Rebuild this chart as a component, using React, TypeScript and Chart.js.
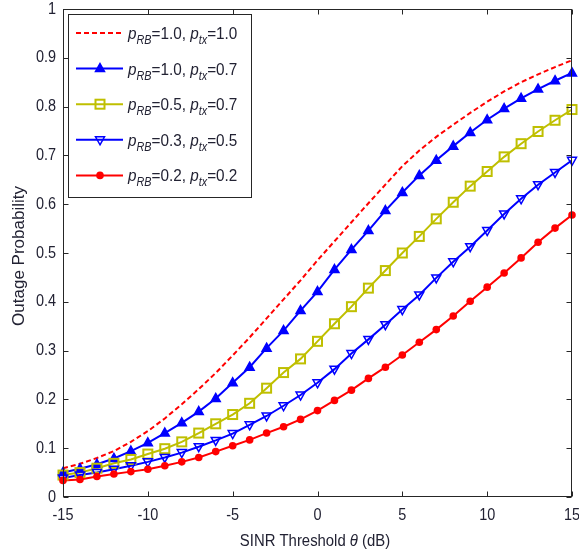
import React, { useEffect, useRef } from 'react';
import { Chart, registerables } from 'chart.js';

Chart.register(...registerables);

// ---- data ----
const thresholds = [-15, -14, -13, -12, -11, -10, -9, -8, -7, -6, -5, -4, -3, -2, -1, 0, 1, 2, 3, 4, 5, 6, 7, 8, 9, 10, 11, 12, 13, 14, 15];

const rb10tx10 = [0.059, 0.068, 0.080, 0.094, 0.113, 0.135, 0.161, 0.190, 0.221, 0.254, 0.290, 0.327, 0.366, 0.405, 0.444, 0.485, 0.524, 0.563, 0.602, 0.640, 0.678, 0.710, 0.738, 0.763, 0.787, 0.810, 0.831, 0.850, 0.866, 0.881, 0.895];
const rb10tx07 = [0.050, 0.058, 0.067, 0.079, 0.094, 0.111, 0.131, 0.152, 0.175, 0.202, 0.234, 0.266, 0.305, 0.341, 0.382, 0.421, 0.466, 0.507, 0.546, 0.587, 0.624, 0.659, 0.690, 0.719, 0.747, 0.773, 0.796, 0.817, 0.836, 0.853, 0.869];
const rb05tx07 = [0.045, 0.050, 0.059, 0.069, 0.077, 0.088, 0.099, 0.113, 0.131, 0.150, 0.169, 0.192, 0.223, 0.255, 0.283, 0.319, 0.355, 0.390, 0.428, 0.464, 0.500, 0.534, 0.570, 0.604, 0.637, 0.667, 0.697, 0.724, 0.749, 0.772, 0.794];
const rb03tx05 = [0.039, 0.045, 0.050, 0.057, 0.064, 0.072, 0.081, 0.091, 0.103, 0.116, 0.130, 0.148, 0.166, 0.187, 0.209, 0.234, 0.262, 0.294, 0.323, 0.353, 0.384, 0.414, 0.449, 0.482, 0.513, 0.546, 0.580, 0.611, 0.640, 0.665, 0.690];
const rb02tx02 = [0.034, 0.036, 0.042, 0.047, 0.052, 0.057, 0.064, 0.072, 0.081, 0.093, 0.105, 0.117, 0.131, 0.144, 0.159, 0.177, 0.198, 0.219, 0.243, 0.266, 0.291, 0.317, 0.343, 0.371, 0.401, 0.430, 0.459, 0.490, 0.522, 0.551, 0.578];

const legendRB = ['1.0', '1.0', '0.5', '0.3', '0.2'];
const legendTX = ['1.0', '0.7', '0.7', '0.5', '0.2'];

const xTicks = [-15, -10, -5, 0, 5, 10, 15];
const yTicks = [0, 0.1, 0.2, 0.3, 0.4, 0.5, 0.6, 0.7, 0.8, 0.9, 1];
const yTickLabels = ['0', '0.1', '0.2', '0.3', '0.4', '0.5', '0.6', '0.7', '0.8', '0.9', '1'];

const xTitle = 'SINR Threshold ';
const xTitleSym = 'θ';
const xTitleUnit = ' (dB)';
const yTitle = 'Outage Probability';

const RED = '#ff0000';
const BLUE = '#0000ff';
const YEL = '#bfbf00';
const TXT = '#222233';
const FONT = '"Liberation Sans", Arial, sans-serif';

type Style = { color: string; dash: number[]; marker: string };
const styles: Style[] = [
  { color: RED, dash: [5, 3], marker: 'none' },
  { color: BLUE, dash: [], marker: 'tri' },
  { color: YEL, dash: [], marker: 'square' },
  { color: BLUE, dash: [], marker: 'tridown' },
  { color: RED, dash: [], marker: 'dot' },
];

function drawMarker(ctx: CanvasRenderingContext2D, kind: string, x: number, y: number, color: string) {
  ctx.save();
  ctx.strokeStyle = color;
  ctx.fillStyle = color;
  ctx.setLineDash([]);
  ctx.lineWidth = 1.5;
  if (kind === 'tri') {
    ctx.beginPath();
    ctx.moveTo(x, y - 5);
    ctx.lineTo(x + 4.5, y + 3);
    ctx.lineTo(x - 4.5, y + 3);
    ctx.closePath();
    ctx.fill();
    ctx.stroke();
  } else if (kind === 'tridown') {
    ctx.beginPath();
    ctx.moveTo(x, y + 5);
    ctx.lineTo(x + 4.5, y - 3);
    ctx.lineTo(x - 4.5, y - 3);
    ctx.closePath();
    ctx.stroke();
  } else if (kind === 'square') {
    ctx.lineWidth = 2;
    ctx.strokeRect(x - 4.5, y - 4.5, 9, 9);
  } else if (kind === 'dot') {
    ctx.beginPath();
    ctx.arc(x, y, 3.8, 0, Math.PI * 2);
    ctx.fill();
  }
  ctx.restore();
}

type Part = { t: string; italic?: boolean; sub?: boolean };
// draws horizontally compressed rich text; returns the drawn width
function drawRich(ctx: CanvasRenderingContext2D, x: number, y: number, parts: Part[], size: number, subSize: number, sx: number, measureOnly = false) {
  let w = 0;
  ctx.save();
  ctx.translate(x, y);
  ctx.scale(sx, 1);
  ctx.textAlign = 'left';
  for (const p of parts) {
    const s = p.sub ? subSize : size;
    ctx.font = `${p.italic ? 'italic ' : ''}${s}px ${FONT}`;
    if (!measureOnly) ctx.fillText(p.t, w, p.sub ? 5 : 0);
    w += ctx.measureText(p.t).width;
  }
  ctx.restore();
  return w * sx;
}

function drawText(ctx: CanvasRenderingContext2D, text: string, x: number, y: number, size: number, sx: number, align: 'left' | 'right' | 'center') {
  ctx.save();
  ctx.font = `${size}px ${FONT}`;
  const w = ctx.measureText(text).width * sx;
  const left = align === 'left' ? x : align === 'right' ? x - w : x - w / 2;
  ctx.translate(left, y);
  ctx.scale(sx, 1);
  ctx.textAlign = 'left';
  ctx.textBaseline = 'middle';
  ctx.fillText(text, 0, 0);
  ctx.restore();
}

const framePlugin = {
  id: 'matlabFrame',
  afterDraw(chart: any) {
    const { ctx, chartArea: a, scales } = chart;
    ctx.save();
    // axes box
    ctx.strokeStyle = '#262626';
    ctx.lineWidth = 1;
    const L = Math.round(a.left) + 0.5;
    const R = Math.round(a.right) - 0.5;
    const T = Math.round(a.top) + 0.5;
    const B = Math.round(a.bottom) - 0.5;
    ctx.strokeRect(L, T, R - L, B - T);
    ctx.beginPath();
    for (const t of xTicks) {
      const px = Math.round(scales.x.getPixelForValue(t)) + 0.5;
      ctx.moveTo(px, B); ctx.lineTo(px, B - 5);
      ctx.moveTo(px, T); ctx.lineTo(px, T + 5);
    }
    for (const t of yTicks) {
      const py = Math.round(scales.y.getPixelForValue(t)) + 0.5;
      ctx.moveTo(L, py); ctx.lineTo(L + 5, py);
      ctx.moveTo(R, py); ctx.lineTo(R - 5, py);
    }
    ctx.stroke();

    // tick labels
    ctx.fillStyle = TXT;
    xTicks.forEach((t) => {
      drawText(ctx, String(t), scales.x.getPixelForValue(t), 515, 17, 0.85, 'center');
    });
    yTicks.forEach((t, i) => {
      drawText(ctx, yTickLabels[i], 56, scales.y.getPixelForValue(t), 17, 0.85, 'right');
    });

    // axis titles
    ctx.fillStyle = TXT;
    ctx.textBaseline = 'alphabetic';
    const xParts: Part[] = [{ t: xTitle }, { t: xTitleSym, italic: true }, { t: xTitleUnit }];
    const w = drawRich(ctx, 0, 0, xParts, 16, 16, 0.93, true);
    drawRich(ctx, 315 - w / 2, 546, xParts, 16, 16, 0.93);

    ctx.save();
    ctx.translate(19, 256);
    ctx.rotate(-Math.PI / 2);
    ctx.font = `17px ${FONT}`;
    ctx.textAlign = 'center';
    ctx.textBaseline = 'middle';
    ctx.fillText(yTitle, 0, 0);
    ctx.restore();

    // legend
    const bx = 68.5, by = 14.5, bw = 183, bh = 183;
    ctx.fillStyle = '#ffffff';
    ctx.fillRect(bx, by, bw, bh);
    ctx.strokeStyle = '#262626';
    ctx.strokeRect(bx, by, bw, bh);
    for (let i = 0; i < styles.length; i++) {
      const st = styles[i];
      const cy = 33 + i * 35.6;
      ctx.save();
      ctx.strokeStyle = st.color;
      ctx.lineWidth = 2;
      ctx.setLineDash(st.dash);
      ctx.beginPath();
      ctx.moveTo(76, cy);
      ctx.lineTo(123, cy);
      ctx.stroke();
      ctx.restore();
      drawMarker(ctx, st.marker, 100, cy, st.color);
      ctx.fillStyle = TXT;
      ctx.textBaseline = 'alphabetic';
      drawRich(ctx, 128, cy + 6, [
        { t: 'p', italic: true },
        { t: 'RB', italic: true, sub: true },
        { t: '=' + legendRB[i] + ', ' },
        { t: 'p', italic: true },
        { t: 'tx', italic: true, sub: true },
        { t: '=' + legendTX[i] },
      ], 17, 12, 0.9);
    }
    ctx.restore();
  },
};

const markerPlugin = {
  id: 'customMarkers',
  afterDatasetsDraw(chart: any) {
    const { ctx } = chart;
    ctx.save();
    ctx.beginPath();
    ctx.rect(chart.chartArea.left - 6, chart.chartArea.top - 6, chart.chartArea.width + 12, chart.chartArea.height + 12);
    ctx.clip();
    chart.data.datasets.forEach((ds: any, i: number) => {
      const st = styles[i];
      if (st.marker === 'none') return;
      const meta = chart.getDatasetMeta(i);
      meta.data.forEach((pt: any) => drawMarker(ctx, st.marker, pt.x, pt.y, st.color));
    });
    ctx.restore();
  },
};

export default function App() {
  const ref = useRef<HTMLCanvasElement | null>(null);
  useEffect(() => {
    if (!ref.current) return;
    const series = [rb10tx10, rb10tx07, rb05tx07, rb03tx05, rb02tx02];
    const chart = new Chart(ref.current, {
      type: 'line',
      data: {
        datasets: series.map((vals, i) => ({
          label: `p_RB=${legendRB[i]}, p_tx=${legendTX[i]}`,
          data: thresholds.map((x, k) => ({ x, y: vals[k] })),
          borderColor: styles[i].color,
          borderWidth: 2,
          borderDash: styles[i].dash,
          pointRadius: 0,
          tension: 0,
          fill: false,
        })),
      },
      options: {
        responsive: false,
        animation: false,
        events: [],
        layout: { padding: { top: 9, right: 7, left: 0, bottom: 0 } },
        plugins: { legend: { display: false }, tooltip: { enabled: false }, title: { display: false } },
        scales: {
          x: {
            type: 'linear',
            min: -15,
            max: 15,
            grid: { display: false, drawTicks: false },
            border: { display: false },
            ticks: { stepSize: 5, display: false },
            afterFit: (s: any) => { s.height = 61; },
          },
          y: {
            type: 'linear',
            min: 0,
            max: 1,
            grid: { display: false, drawTicks: false },
            border: { display: false },
            ticks: { stepSize: 0.1, display: false },
            afterFit: (s: any) => { s.width = 63; },
          },
        },
      },
      plugins: [markerPlugin, framePlugin],
    });
    return () => chart.destroy();
  }, []);
  return (
    <div style={{ position: 'absolute', left: 0, top: 0, width: 579, height: 558, background: '#fff' }}>
      <canvas ref={ref} width={579} height={558} style={{ display: 'block', width: 579, height: 558 }} />
    </div>
  );
}
